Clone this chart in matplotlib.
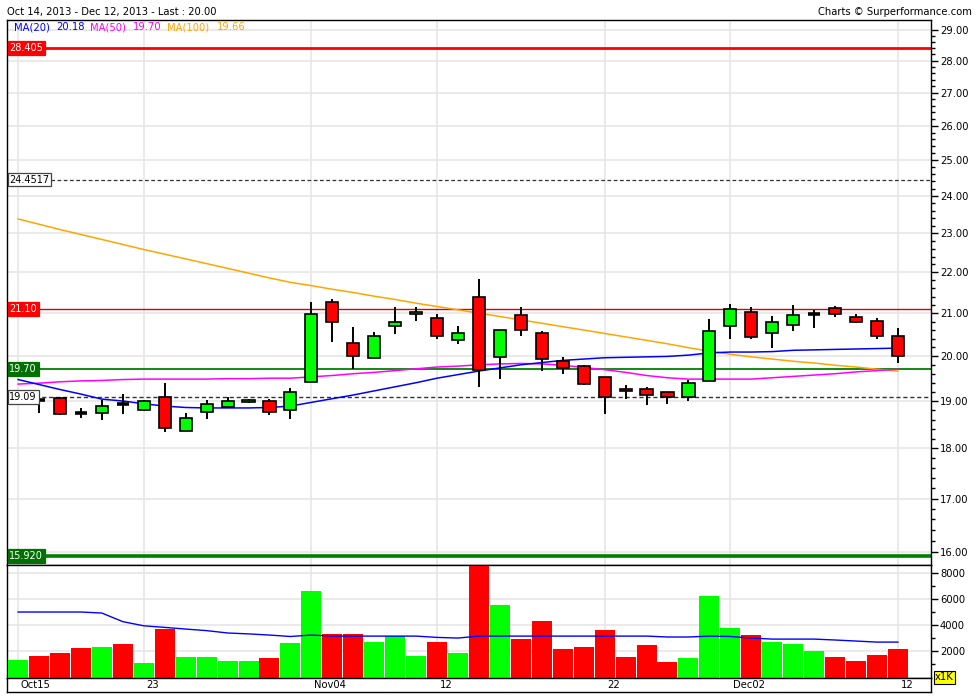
import matplotlib
matplotlib.use("Agg")
import matplotlib.pyplot as plt
from matplotlib.patches import Rectangle
from matplotlib.ticker import FixedLocator, NullFormatter, FixedFormatter
import numpy as np

plt.rcParams['font.family'] = ['DejaVu Sans']

# ---------------- data ----------------
opens  = [19.04, 19.03, 19.06, 18.75, 18.74, 18.94, 18.80, 19.08, 18.37, 18.76,
          18.86, 18.97, 19.01, 18.80, 19.41, 21.27, 20.29, 19.95, 20.69, 20.98,
          20.88, 20.36, 21.38, 19.98, 20.96, 20.52, 19.88, 19.77, 19.52, 19.26,
          19.26, 19.19, 19.08, 19.43, 20.69, 21.02, 20.52, 20.72, 20.98, 21.12,
          20.90, 20.81, 20.47]
highs  = [19.15, 19.05, 19.09, 18.85, 19.03, 19.15, 19.02, 19.40, 18.75, 19.02,
          19.08, 19.04, 19.04, 19.28, 21.27, 21.35, 20.67, 20.55, 21.15, 21.15,
          20.98, 20.69, 21.84, 20.59, 21.15, 20.57, 19.98, 19.80, 19.52, 19.35,
          19.31, 19.19, 19.46, 20.86, 21.22, 21.14, 20.94, 21.20, 21.08, 21.17,
          20.98, 20.89, 20.64]
lows   = [18.98, 18.75, 18.69, 18.64, 18.59, 18.73, 18.79, 18.35, 18.37, 18.61,
          18.86, 18.95, 18.69, 18.62, 19.41, 20.33, 19.71, 19.95, 20.51, 20.82,
          20.38, 20.28, 19.30, 19.49, 20.47, 19.65, 19.60, 19.35, 18.73, 19.05,
          18.92, 18.94, 19.00, 19.43, 20.38, 20.38, 20.19, 20.58, 20.65, 20.92,
          20.77, 20.40, 19.85]
closes = [19.10, 19.03, 18.72, 18.75, 18.89, 18.94, 19.01, 18.42, 18.63, 18.93,
          18.99, 19.03, 18.77, 19.19, 20.98, 20.80, 20.01, 20.47, 20.78, 21.03,
          20.45, 20.52, 19.69, 20.59, 20.61, 19.93, 19.72, 19.38, 19.08, 19.21,
          19.12, 19.08, 19.39, 20.57, 21.10, 20.43, 20.78, 20.96, 20.98, 20.98,
          20.80, 20.45, 20.00]
volumes = [1360, 1670, 1900, 2280, 2360, 2590, 1130, 3750, 1590, 1590,
           1280, 1280, 1510, 2670, 6670, 3360, 3360, 2740, 3150, 1670,
           2740, 1900, 8540, 5590, 2980, 4360, 2210, 2360, 3670, 1590,
           2520, 1210, 1510, 6280, 3820, 3280, 2740, 2590, 2050, 1590,
           1280, 1740, 2210]
vol_colors = ['g', 'r', 'r', 'r', 'g', 'r', 'g', 'r', 'g', 'g',
              'g', 'g', 'r', 'g', 'g', 'r', 'r', 'g', 'g', 'g',
              'r', 'g', 'r', 'g', 'r', 'r', 'r', 'r', 'r', 'r',
              'r', 'r', 'g', 'g', 'g', 'r', 'g', 'g', 'g', 'r',
              'r', 'r', 'r']
ma20 = [19.47, 19.36, 19.25, 19.15, 19.04, 19.00, 18.94, 18.89, 18.86, 18.85,
        18.85, 18.85, 18.86, 18.89, 18.97, 19.05, 19.13, 19.22, 19.31, 19.40,
        19.50, 19.58, 19.66, 19.73, 19.80, 19.85, 19.90, 19.93, 19.96, 19.97,
        19.98, 19.99, 20.02, 20.07, 20.09, 20.09, 20.10, 20.13, 20.14, 20.15,
        20.16, 20.17, 20.18]
ma50 = [19.37, 19.39, 19.42, 19.44, 19.45, 19.47, 19.48, 19.48, 19.48, 19.48,
        19.49, 19.49, 19.50, 19.50, 19.53, 19.56, 19.60, 19.63, 19.67, 19.71,
        19.75, 19.77, 19.80, 19.82, 19.83, 19.82, 19.79, 19.74, 19.69, 19.63,
        19.56, 19.51, 19.48, 19.48, 19.48, 19.48, 19.51, 19.54, 19.57, 19.60,
        19.64, 19.67, 19.70]
ma100 = [23.38, 23.24, 23.10, 22.97, 22.84, 22.71, 22.58, 22.46, 22.34, 22.22,
         22.10, 21.98, 21.86, 21.75, 21.67, 21.58, 21.50, 21.41, 21.33, 21.24,
         21.16, 21.08, 21.00, 20.92, 20.84, 20.76, 20.68, 20.60, 20.52, 20.44,
         20.36, 20.28, 20.19, 20.11, 20.04, 19.98, 19.93, 19.88, 19.84, 19.79,
         19.75, 19.70, 19.66]
vol_ma = [5030, 5030, 5030, 5030, 4950, 4290, 3970, 3850, 3720, 3600,
          3420, 3350, 3260, 3150, 3260, 3180, 3180, 3180, 3180, 3180,
          3080, 3030, 3180, 3180, 3180, 3180, 3180, 3180, 3180, 3180,
          3180, 3110, 3110, 3180, 3150, 3030, 2950, 2950, 2950, 2880,
          2800, 2720, 2720]

tick_pos = [0, 6, 14, 20, 28, 34, 42]
tick_labels = ['Oct15', '23', 'Nov04', '12', '22', 'Dec02', '12']
price_ticks = [16, 17, 18, 19, 20, 21, 22, 23, 24, 25, 26, 27, 28, 29]
vol_ticks = [2000, 4000, 6000, 8000]

level_values = [28.405, 24.4517, 21.10, 19.70, 19.09, 15.92]
level_labels = ['28.405', '24.4517', '21.10', '19.70', '19.09', '15.920']

title_text = 'Oct 14, 2013 - Dec 12, 2013 - Last : 20.00'
credit_text = 'Charts \u00a9 Surperformance.com'

# ---------------- layout ----------------
W, H = 980, 700
def fx(px):
    return px / W
def fy(py):
    return 1 - py / H

GREEN = '#00ff00'
RED = '#ff0000'
DKGREEN = '#008000'
GRID = '#e6e6e6'
FS = 7.2

fig = plt.figure(figsize=(9.8, 7.0), dpi=100)
L_, R_ = 7, 931
ax = fig.add_axes([fx(L_), fy(564.5), (R_ - L_) / W, (564.5 - 20) / H])
axv = fig.add_axes([fx(L_), fy(677.5), (R_ - L_) / W, (677.5 - 564.5) / H])
axd = fig.add_axes([fx(L_), fy(692), (R_ - L_) / W, (692 - 677.5) / H])

n = len(closes)
idx = np.arange(n)
for a in (ax, axv, axd):
    a.set_xlim(-0.53, 43.58)
    for s in a.spines.values():
        s.set_color('black')
        s.set_linewidth(1.0)

# ---------------- price panel ----------------
ax.set_yscale('log')
ax.set_ylim(15.77, 29.33)
ax.yaxis.set_major_locator(FixedLocator(price_ticks))
ax.yaxis.set_major_formatter(FixedFormatter([f'{t:.2f}' for t in price_ticks]))
ax.yaxis.set_minor_locator(FixedLocator(np.arange(16, 29.01, 0.2)))
ax.yaxis.set_minor_formatter(NullFormatter())
ax.yaxis.tick_right()
ax.tick_params(axis='y', which='major', direction='out', length=5, width=1,
               labelsize=FS, pad=1.5)
ax.tick_params(axis='y', which='minor', direction='out', length=3, width=1)
ax.set_xticks(tick_pos)
ax.tick_params(axis='x', length=0, labelbottom=False)
ax.grid(True, which='major', color=GRID, lw=1.2)
ax.set_axisbelow(True)

# horizontal levels
ax.axhline(28.405, color=RED, lw=2.0, zorder=2)
ax.axhline(24.4517, color='#333333', lw=0.9, ls=(0, (3, 2)), zorder=2)
ax.axhline(21.10, color='#e00000', lw=1.0, zorder=2)
ax.axhline(19.70, color=DKGREEN, lw=1.3, zorder=2)
ax.axhline(19.09, color='#333333', lw=1.0, ls=(0, (3, 2)), zorder=2)
ax.axhline(15.92, color=DKGREEN, lw=2.6, zorder=2)

# moving averages
ax.plot(idx, ma100, color='#ffa500', lw=1.1, zorder=2.5)
ax.plot(idx, ma50, color='#ff00ff', lw=1.1, zorder=2.6)
ax.plot(idx, ma20, color='#0000ff', lw=1.1, zorder=2.7)

# candles
bw = 0.58
for i in range(n):
    o, h, l, c = opens[i], highs[i], lows[i], closes[i]
    ax.vlines(i, l, h, color='black', lw=1.4, zorder=3)
    if abs(c - o) < 0.005:
        ax.hlines(o, i - bw / 2, i + bw / 2, color='black', lw=2.6, zorder=4)
    else:
        col = GREEN if c > o else RED
        ax.add_patch(Rectangle((i - bw / 2, min(o, c)), bw, abs(c - o),
                               facecolor=col, edgecolor='black', lw=1.2, zorder=4))

# level labels on the left
styles = [
    dict(fc=RED, ec=RED, color='white'),
    dict(fc='white', ec='#444444', color='black'),
    dict(fc=RED, ec=RED, color='white'),
    dict(fc='#007000', ec='#007000', color='white'),
    dict(fc='white', ec='#444444', color='black'),
    dict(fc='#007000', ec='#007000', color='white'),
]
trans = ax.get_yaxis_transform()
for v, lab, st in zip(level_values, level_labels, styles):
    ax.text(0.0025, v, lab, transform=trans, ha='left', va='center',
            fontsize=FS - 0.2, color=st['color'], zorder=10,
            bbox=dict(boxstyle='square,pad=0.18', fc=st['fc'], ec=st['ec'], lw=0.9))

# ---------------- volume panel ----------------
vcol = [GREEN if c == 'g' else RED for c in vol_colors]
axv.bar(idx, volumes, width=0.955, color=vcol, zorder=3)
axv.plot(idx, vol_ma, color='#0000ff', lw=1.0, zorder=4)
axv.set_ylim(0, 8680)
axv.yaxis.set_major_locator(FixedLocator(vol_ticks))
axv.yaxis.set_major_formatter(FixedFormatter([str(t) for t in vol_ticks]))
axv.yaxis.set_minor_locator(FixedLocator([1000, 3000, 5000, 7000]))
axv.yaxis.tick_right()
axv.tick_params(axis='y', which='major', direction='out', length=5, width=1,
                labelsize=FS, pad=1.5)
axv.tick_params(axis='y', which='minor', direction='out', length=3, width=1)
axv.set_xticks(tick_pos)
axv.tick_params(axis='x', length=0, labelbottom=False)
axv.grid(True, which='major', color=GRID, lw=1.2)
axv.set_axisbelow(True)

# ---------------- date strip ----------------
axd.set_xticks([])
axd.set_yticks([])
axd.set_ylim(0, 1)
for p, lab in zip(tick_pos, tick_labels):
    axd.text(p + 0.12, 0.45, lab, ha='left', va='center', fontsize=FS)

# ---------------- texts ----------------
fig.text(fx(7), fy(12), title_text, ha='left', va='center', fontsize=FS)
fig.text(fx(972), fy(12), credit_text, ha='right', va='center', fontsize=FS)

legend_items = [
    ('MA(20)', 14, '#0000ff'), (f'{ma20[-1]:.2f}', 56, '#0000ff'),
    ('MA(50)', 90, '#ff00ff'), (f'{ma50[-1]:.2f}', 133, '#ff00ff'),
    ('MA(100)', 167, '#ffa500'), (f'{ma100[-1]:.2f}', 217, '#ffa500'),
]
for txt, px, col in legend_items:
    fig.text(fx(px), fy(27.5), txt, ha='left', va='center', fontsize=FS, color=col)

fig.text(fx(935), fy(677), 'x1K', ha='left', va='center', fontsize=FS,
         bbox=dict(boxstyle='square,pad=0.15', fc='#ffff00', ec='black', lw=0.8))

fig.savefig('out.png', dpi=100, facecolor='white')
